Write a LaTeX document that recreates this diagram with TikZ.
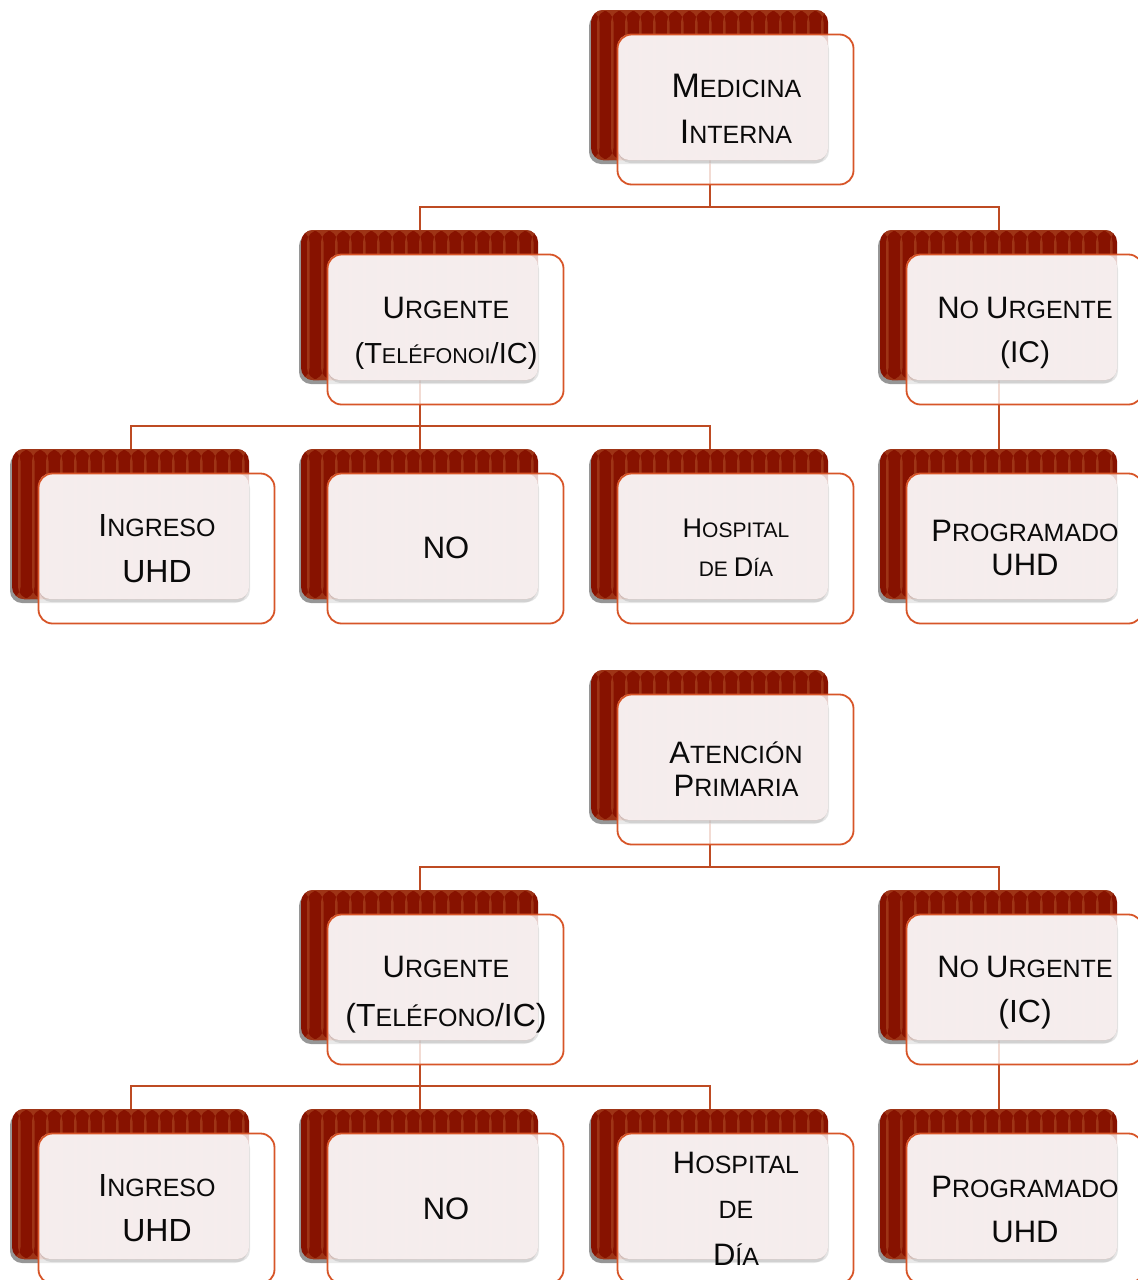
\documentclass[tikz,border=0pt]{standalone}
\usepackage{fontspec}
\setmainfont{Liberation Sans}
\usetikzlibrary{shadows}
\pgfdeclarelayer{bg}
\pgfsetlayers{bg,main}
\definecolor{backred}{RGB}{135,18,0}
\definecolor{stripec}{RGB}{158,52,22}
\definecolor{pinkc}{RGB}{248,240,240}
\definecolor{outl}{RGB}{215,85,40}
\definecolor{connc}{RGB}{190,75,35}
\definecolor{textc}{RGB}{10,10,10}
\newcommand\BG[1]{\fontsize{#1pt}{#1pt}\selectfont}
\tikzset{
  backbox/.style={fill=backred, rounded corners=12pt, minimum width=237pt,
    minimum height=150pt, inner sep=0pt, outer sep=0pt,
    drop shadow={shadow xshift=-2pt,shadow yshift=-4pt,opacity=.55,fill=black!75},
    path picture={\foreach \i in {0,...,16}{\fill[stripec]
      ([xshift={6pt+\i*14pt}]path picture bounding box.north west) rectangle
      ([xshift={8.5pt+\i*14pt}]path picture bounding box.south west);}}},
  frontbox/.style={draw=outl, line width=1.8pt, rounded corners=14pt,
    minimum width=236pt, minimum height=150pt, inner sep=0pt, outer sep=0pt},
  pinkf/.style={fill=pinkc, fill opacity=.95, rounded corners=12pt,
    drop shadow={shadow xshift=1pt,shadow yshift=-3pt,opacity=.10,fill=black}},
  whitef/.style={fill=white, fill opacity=.8, rounded corners=14pt},
  conn/.style={draw=connc, line width=2pt},
  txt/.style={anchor=base, text=textc, inner sep=0pt}
}
\newcommand\smbox[3]{%
  \node[backbox] (#1bk) at (#2+118.5,#3+75) {};
  \fill[whitef] (#2+26.5,#3+24.5) rectangle ++(236,150);
  \fill[pinkf] (#2+26.5,#3+24.5) rectangle (#2+237,#3+150);
  \node[frontbox] (#1) at (#2+144.5,#3+99.5) {};
}
\begin{document}
\begin{tikzpicture}[x=1pt,y=-1pt]
\useasboundingbox (0,0) rectangle (1138,1280);
% top tree
\smbox{mi}{591}{10}
\smbox{urg}{301}{230}
\smbox{nurg}{880}{230}
\smbox{ing}{12}{449}
\smbox{no}{301}{449}
\smbox{hosp}{591}{449}
\smbox{prog}{880}{449}
% bottom tree
\smbox{ap}{591}{670}
\smbox{urgII}{301}{890}
\smbox{nurgII}{880}{890}
\smbox{ingII}{12}{1109}
\smbox{noII}{301}{1109}
\smbox{hospII}{591}{1109}
\smbox{progII}{880}{1109}
\coordinate (bar1) at (0,207);
\coordinate (bar2) at (0,426);
\coordinate (bar3) at (0,867);
\coordinate (bar4) at (0,1086);
\begin{pgfonlayer}{bg}
\draw[conn] (mibk.center) -- (mibk.center |- bar1) -| (urgbk.center);
\draw[conn] (mibk.center |- bar1) -| (nurgbk.center);
\draw[conn] (urgbk.center) -- (urgbk.center |- bar2) -| (ingbk.center);
\draw[conn] (urgbk.center |- bar2) -| (nobk.center);
\draw[conn] (urgbk.center |- bar2) -| (hospbk.center);
\draw[conn] (nurgbk.center) -- (progbk.center);
\draw[conn] (apbk.center) -- (apbk.center |- bar3) -| (urgIIbk.center);
\draw[conn] (apbk.center |- bar3) -| (nurgIIbk.center);
\draw[conn] (urgIIbk.center) -- (urgIIbk.center |- bar4) -| (ingIIbk.center);
\draw[conn] (urgIIbk.center |- bar4) -| (noIIbk.center);
\draw[conn] (urgIIbk.center |- bar4) -| (hospIIbk.center);
\draw[conn] (nurgIIbk.center) -- (progIIbk.center);
\end{pgfonlayer}
% texts top
\node[txt] (t1) at (736.5,97) {{\BG{34}M}{\BG{25}EDICINA}};
\node[txt] (t2) at (736,143) {{\BG{34}I}{\BG{25}NTERNA}};
\node[txt] (t3) at (446,318) {{\BG{31}U}{\BG{25}RGENTE}};
\node[txt] (t4) at (446,363) {{\BG{29}(T}{\BG{21.5}ELÉFONOI}{\BG{29}/IC)}};
\node[txt] (t5) at (1025,318) {{\BG{31}N}{\BG{25}O }{\BG{31}U}{\BG{25}RGENTE}};
\node[txt] (t6) at (1025,362) {{\BG{30}(IC)}};
\node[txt] (t7) at (157,536) {{\BG{32}I}{\BG{25}NGRESO}};
\node[txt] (t8) at (157,582) {{\BG{32}UHD}};
\node[txt] (t9) at (446,558) {{\BG{31}NO}};
\node[txt] (t10) at (736,537) {{\BG{27}H}{\BG{21}OSPITAL}};
\node[txt] (t11) at (736,576) {{\BG{21}DE }{\BG{27}D}{\BG{21}ÍA}};
\node[txt] (t12) at (1025,541) {{\BG{31}P}{\BG{25}ROGRAMADO}};
\node[txt] (t13) at (1025,575) {{\BG{31}UHD}};
% texts bottom
\node[txt] (t14) at (736,763) {{\BG{31}A}{\BG{25}TENCIÓN}};
\node[txt] (t15) at (736,796) {{\BG{31}P}{\BG{25}RIMARIA}};
\node[txt] (t16) at (446,977) {{\BG{31}U}{\BG{25}RGENTE}};
\node[txt] (t17) at (446,1026) {{\BG{32}(T}{\BG{25}ELÉFONO}{\BG{32}/IC)}};
\node[txt] (t18) at (1025,977) {{\BG{31}N}{\BG{25}O }{\BG{31}U}{\BG{25}RGENTE}};
\node[txt] (t19) at (1025,1022) {{\BG{32}(IC)}};
\node[txt] (t20) at (157,1196) {{\BG{32}I}{\BG{25}NGRESO}};
\node[txt] (t21) at (157,1241) {{\BG{32}UHD}};
\node[txt] (t22) at (446,1219) {{\BG{31}NO}};
\node[txt] (t23) at (736,1173) {{\BG{31}H}{\BG{25}OSPITAL}};
\node[txt] (t24) at (736,1218) {{\BG{25}DE}};
\node[txt] (t25) at (736,1265) {{\BG{31}D}{\BG{25}ÍA}};
\node[txt] (t26) at (1025,1197) {{\BG{31}P}{\BG{25}ROGRAMADO}};
\node[txt] (t27) at (1025,1242) {{\BG{31}UHD}};
\end{tikzpicture}
\end{document}
